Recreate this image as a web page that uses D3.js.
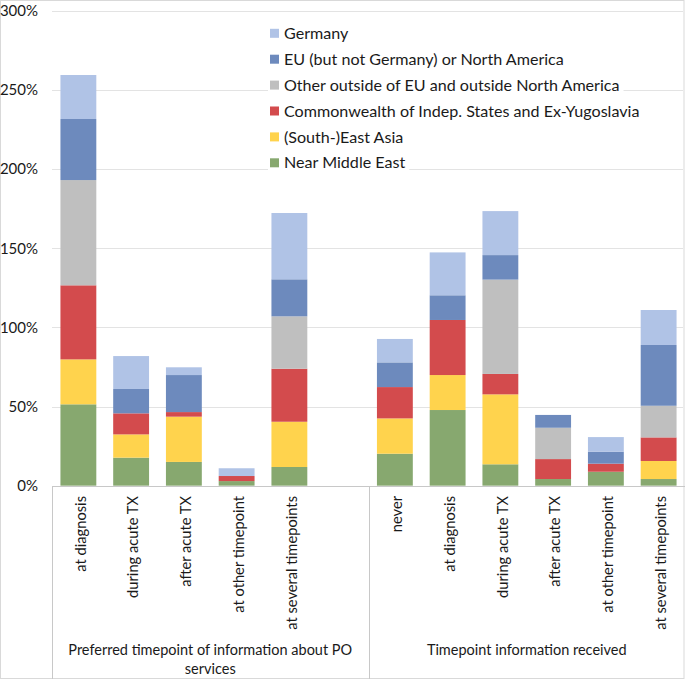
<!DOCTYPE html>
<html>
<head>
<meta charset="utf-8">
<script src="https://cdn.jsdelivr.net/npm/d3@7"></script>
<style>
  html, body { margin: 0; padding: 0; background: #fff; }
  svg { display: block; }
  text { font-family: Lato, "Liberation Sans", Arial, sans-serif; fill: #1a1a1a; }
</style>
</head>
<body>
<svg id="chart" width="685" height="679"></svg>
<script>
// ---- data ----
const groupNames = ["Preferred timepoint of information about PO services", "Timepoint information received"];
const group1Categories = ["at diagnosis", "during acute TX", "after acute TX", "at other timepoint", "at several timepoints", ""];
const group2Categories = ["never", "at diagnosis", "during acute TX", "after acute TX", "at other timepoint", "at several timepoints"];
const seriesNames = ["Near Middle East", "(South-)East Asia", "Commonwealth of Indep. States and Ex-Yugoslavia",
  "Other outside of EU and outside North America", "EU (but not Germany) or North America", "Germany"];
const seriesColors = ["#87a86f", "#ffd34d", "#d34b4d", "#bfbfbf", "#6d8abd", "#b0c3e6"];
// values in % (12 slots: 6 in group 1 incl. empty slot, 6 in group 2)
const nearMiddleEast = [51.4, 17.7, 15.0, 2.9, 11.8, 0, 20.2, 47.8, 13.5, 4.2, 8.8, 4.2];
const southEastAsia  = [28.4, 14.7, 28.6, 0,   28.6, 0, 22.3, 22.1, 44.2, 0,   0,   11.4];
const commonwealth   = [46.8, 13.3, 2.9,  3.2, 33.5, 0, 19.8, 34.8, 12.9, 12.6, 5.1, 14.9];
const otherOutside   = [66.5, 0,    0,    0,   33.1, 0, 0,    0,    59.6, 19.8, 0,   20.0];
const euNorthAmerica = [38.6, 15.4, 23.4, 0,   23.4, 0, 15.6, 15.6, 15.5, 8.1, 7.6, 38.4];
const germany        = [27.8, 20.8, 4.9,  4.9, 41.9, 0, 14.8, 27.1, 27.8, 0,   9.2, 22.1];
const yTicks = [0, 50, 100, 150, 200, 250, 300];

// ---- build table ----
const seriesValues = [nearMiddleEast, southEastAsia, commonwealth, otherOutside, euNorthAmerica, germany];
const slots = [];
group1Categories.forEach((c, i) => slots.push({ key: "g1-" + i, label: c, group: 0 }));
group2Categories.forEach((c, i) => slots.push({ key: "g2-" + i, label: c, group: 1 }));
const table = slots.map((s, i) => {
  const row = { key: s.key };
  seriesNames.forEach((n, j) => row[n] = seriesValues[j][i]);
  return row;
});

// ---- layout ----
const svg = d3.select("#chart");
const W = 685, H = 679;
const left = 52, right = 685, y0 = 485.67, yTop = 10.9;

svg.append("rect").attr("x", 0.5).attr("y", 0.5).attr("width", W - 1.5).attr("height", H - 1)
  .attr("fill", "#fff").attr("stroke", "#d9d9d9");

const x = d3.scaleBand().domain(slots.map(s => s.key)).range([left, right])
  .paddingInner(0.32).paddingOuter(0.16);
const y = d3.scaleLinear().domain([0, 300]).range([y0, yTop]);

// gridlines
svg.append("g").selectAll("line").data(yTicks.filter(t => t > 0)).join("line")
  .attr("x1", left).attr("x2", right - 2)
  .attr("y1", d => Math.round(y(d)) + 0.5).attr("y2", d => Math.round(y(d)) + 0.5)
  .attr("stroke", "#e3e3e3").attr("stroke-width", 1);

// y tick labels
svg.append("g").selectAll("text").data(yTicks).join("text")
  .attr("x", 38).attr("y", d => y(d)).attr("dy", "0.35em")
  .attr("text-anchor", "end").style("font-size", "15px")
  .text(d => d + "%");

// bars
const stack = d3.stack().keys(seriesNames);
const stacked = stack(table);
svg.append("g").selectAll("g").data(stacked).join("g")
  .attr("fill", (d, i) => seriesColors[i])
  .selectAll("rect").data(d => d).join("rect")
  .attr("x", d => x(d.data.key))
  .attr("width", x.bandwidth())
  .attr("y", d => y(d[1]))
  .attr("height", d => Math.max(0, y(d[0]) - y(d[1])));

// axis baseline
svg.append("line").attr("x1", left).attr("x2", right).attr("y1", Math.round(y0) + 0.5).attr("y2", Math.round(y0) + 0.5)
  .attr("stroke", "#c8c8c8");

// group dividers
const divX = [left, x("g2-0") - (x.step() - x.bandwidth()) / 2];
svg.append("g").selectAll("line").data(divX).join("line")
  .attr("x1", d => Math.round(d) + 0.5).attr("x2", d => Math.round(d) + 0.5)
  .attr("y1", Math.round(y0)).attr("y2", H)
  .attr("stroke", "#c8c8c8");

// category labels (rotated)
svg.append("g").selectAll("text").data(slots.filter(s => s.label)).join("text")
  .attr("transform", d => `translate(${x(d.key) + x.bandwidth() / 2 + 2},496) rotate(-90)`)
  .attr("text-anchor", "end").attr("dy", "0.35em")
  .style("font-size", "14.7px")
  .text(d => d.label);

// group labels
const g1c = (left + divX[1]) / 2, g2c = (divX[1] + right) / 2;
const gl = svg.append("g").style("font-size", "14.5px").attr("text-anchor", "middle");
gl.append("text").attr("x", g1c).attr("y", 650).attr("dy", "0.35em").text("Preferred timepoint of information about PO");
gl.append("text").attr("x", g1c).attr("y", 669).attr("dy", "0.35em").text("services");
gl.append("text").attr("x", g2c).attr("y", 650).attr("dy", "0.35em").text(groupNames[1]);

// legend (top to bottom: Germany ... Near Middle East)
const legendOrder = seriesNames.map((n, i) => i).reverse();
const lg = svg.append("g");
legendOrder.forEach((si, r) => {
  const cy = 33.3 + r * 25.9;
  const item = lg.append("g");
  const bg = item.append("rect").attr("fill", "#fff");
  item.append("rect").attr("x", 270).attr("y", cy - 4.5).attr("width", 9).attr("height", 9).attr("fill", seriesColors[si]);
  const t = item.append("text").attr("x", 284).attr("y", cy).attr("dy", "0.35em")
    .style("font-size", "16.1px").text(seriesNames[si]);
  const w = t.node().getComputedTextLength();
  bg.attr("x", 268).attr("y", cy - 10).attr("width", w + 20).attr("height", 20);
});
</script>
</body>
</html>
